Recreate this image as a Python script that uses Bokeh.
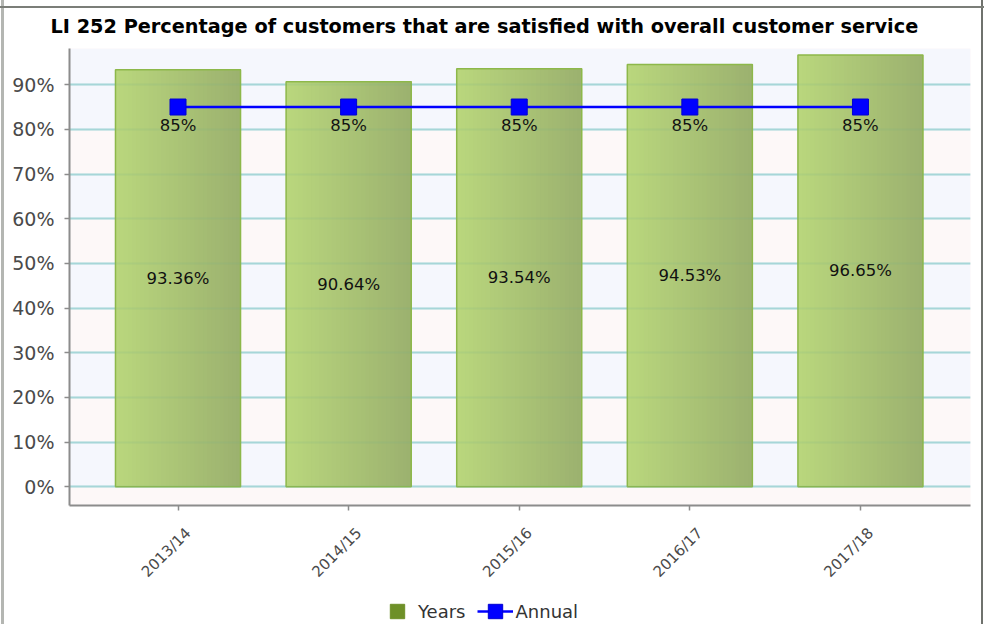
from math import pi

from bokeh.core.properties import value
from bokeh.embed import file_html
from bokeh.layouts import column
from bokeh.models import (BoxAnnotation, ColumnDataSource, FixedTicker, Grid,
                          Legend, LegendItem, LinearAxis, Range1d)
from bokeh.plotting import figure
from bokeh.resources import INLINE

# ---------------- data ----------------
title_text = "LI 252 Percentage of customers that are satisfied with overall customer service"
years = ["2013/14", "2014/15", "2015/16", "2016/17", "2017/18"]
satisfied_pct = [93.36, 90.64, 93.54, 94.53, 96.65]
annual_target = [85, 85, 85, 85, 85]
y_ticks = [0, 10, 20, 30, 40, 50, 60, 70, 80, 90]
y_tick_labels = ["0%", "10%", "20%", "30%", "40%", "50%", "60%", "70%", "80%", "90%"]
legend_labels = ["Years", "Annual"]

# ---------------- styling ----------------
FONT = "DejaVu Sans"
BAR_W = 0.733
LABEL_SHIFT = 0.06          # x-labels sit slightly right of their tick marks
N_STRIPS = 30
LEFT_RGB = (185, 215, 125)
RIGHT_RGB = (156, 177, 111)
BAR_LEGEND = "#6e9028"
LINE_COLOR = "#0000ff"
AXIS_GREY = "#8c8c8c"
LABEL_GREY = "#4a4a4a"
SIDE_LINES = ("linear-gradient(#b4b6b2,#b4b6b2) 1px 0 / 3px 100% no-repeat, "
              "linear-gradient(#6f726d,#6f726d) 981px 0 / 2px 100% no-repeat")

xs = list(range(len(years)))

# gradient strips (each strip runs to the bar's right edge; drawn left to right)
s_left, s_right, s_top, s_color = [], [], [], []
for i, v in enumerate(satisfied_pct):
    for k in range(N_STRIPS):
        t = (k + 0.5) / N_STRIPS
        rgb = tuple(int(round(a + (b - a) * t)) for a, b in zip(LEFT_RGB, RIGHT_RGB))
        s_left.append(i - BAR_W / 2 + k * BAR_W / N_STRIPS)
        s_right.append(i + BAR_W / 2)
        s_top.append(v)
        s_color.append("#%02x%02x%02x" % rgb)
strip_src = ColumnDataSource(dict(left=s_left, right=s_right, top=s_top,
                                  bottom=[0] * len(s_top), color=s_color))

bar_src = ColumnDataSource(dict(
    x=xs, top=satisfied_pct, mid=[v / 2 for v in satisfied_pct],
    label=["%.2f%%" % v for v in satisfied_pct]))
line_src = ColumnDataSource(dict(
    x=xs, y=annual_target, label=["%d%%" % v for v in annual_target]))

p = figure(width=984, height=592,
           x_range=Range1d(-0.636, 4.645), y_range=Range1d(-4.2, 98.1),
           output_backend="svg", toolbar_location=None,
           min_border_left=69, min_border_right=14,
           min_border_top=48, min_border_bottom=87)
# window frame lines drawn as CSS backgrounds behind a transparent border area
p.styles = {"background": (
    "linear-gradient(#7b7e78,#7b7e78) 0 6px / 100% 2px no-repeat, "
    + SIDE_LINES + ", white")}
p.border_fill_alpha = 0

p.background_fill_color = "#fdf8f8"
p.outline_line_color = None

# title
p.title.text = title_text
p.title.text_font = FONT
p.title.text_font_size = "19.3px"
p.title.text_font_style = "bold"
p.title.text_color = "#000000"
p.title.align = "left"
p.title.offset = -19
p.title.standoff = 22

# grid + bands
p.xgrid.visible = False
p.ygrid.ticker = FixedTicker(ticks=y_ticks)
p.ygrid.grid_line_color = "#b0dde6"
p.ygrid.grid_line_width = 2
p.ygrid.band_fill_color = "#f5f7fd"
p.ygrid.band_fill_alpha = 1
p.add_layout(BoxAnnotation(bottom=y_ticks[-1], fill_color="#f5f7fd", fill_alpha=1,
                           line_color=None, level="image"))

# bars
p.quad(left="left", right="right", top="top", bottom="bottom", source=strip_src,
       fill_color="color", line_color=None)
p.vbar(x="x", top="top", bottom=0, width=BAR_W, source=bar_src,
       fill_alpha=0, line_color="#8db84a", line_width=1.5)

# grid seen through the bars
p.add_layout(Grid(dimension=1, ticker=FixedTicker(ticks=y_ticks),
                  grid_line_color="#6fae8a", grid_line_alpha=0.15,
                  grid_line_width=2, level="guide"))

# annual target line
p.line("x", "y", source=line_src, line_color=LINE_COLOR, line_width=2.5)
p.scatter("x", "y", source=line_src, marker="square", size=16,
          fill_color=LINE_COLOR, line_color="#0000d0", line_width=1)

# value labels
p.text(x="x", y="mid", text="label", source=bar_src, text_align="center",
       text_baseline="middle", text_font=value(FONT), text_font_size="16.5px",
       text_color="#111111")
p.text(x="x", y="y", text="label", source=line_src, text_align="center",
       text_baseline="middle", y_offset=18, text_font=value(FONT),
       text_font_size="16.5px", text_color="#111111")

# axes
p.yaxis.ticker = FixedTicker(ticks=y_ticks)
p.yaxis.major_label_overrides = {t: l for t, l in zip(y_ticks, y_tick_labels)}
p.yaxis.major_label_text_font_size = "19px"
p.yaxis.major_label_standoff = 10

# bottom axis: tick marks only
p.xaxis.ticker = FixedTicker(ticks=xs)
p.xaxis.major_label_overrides = {i: "" for i in xs}
p.xaxis.major_label_standoff = 0
for ax in (p.xaxis[0], p.yaxis[0]):
    ax.axis_line_color = AXIS_GREY
    ax.axis_line_width = 2
    ax.major_tick_line_color = AXIS_GREY
    ax.major_tick_line_width = 1.5
    ax.major_tick_in = 0
    ax.major_tick_out = 5
    ax.minor_tick_line_color = None
    ax.major_label_text_font = FONT
    ax.major_label_text_color = LABEL_GREY

# second bottom axis carrying the rotated category labels
label_ticks = [x + LABEL_SHIFT for x in xs]
label_axis = LinearAxis(ticker=FixedTicker(ticks=label_ticks),
                        major_label_overrides={t: y for t, y in zip(label_ticks, years)},
                        major_label_orientation=pi / 4,
                        major_label_standoff=20,
                        major_label_text_font=FONT,
                        major_label_text_font_size="15px",
                        major_label_text_color=LABEL_GREY,
                        axis_line_color=None, major_tick_line_color=None,
                        minor_tick_line_color=None, major_tick_in=0,
                        major_tick_out=0)
p.add_layout(label_axis, "below")

# ---------------- legend strip below the chart ----------------
q = figure(width=984, height=32, x_range=Range1d(-0.636, 4.645),
           y_range=Range1d(-4.2, 98.1),
           output_backend="svg", toolbar_location=None,
           x_axis_location=None, y_axis_location=None,
           min_border=0, min_border_left=0, min_border_right=0,
           min_border_top=0, min_border_bottom=0)
q.styles = {"background": SIDE_LINES + ", white"}
q.border_fill_alpha = 0
q.background_fill_alpha = 0
q.outline_line_color = None
q.xgrid.visible = False
q.ygrid.visible = False
# hidden copies of the series: they only supply the legend swatches
lg_years = q.scatter(x=xs, y=satisfied_pct, marker="square",
                     fill_color=BAR_LEGEND, line_color=BAR_LEGEND, visible=False)
lg_line = q.line(x=xs, y=annual_target, line_color=LINE_COLOR, line_width=2.5,
                 visible=False)
lg_sq = q.scatter(x=xs, y=annual_target, marker="square", fill_color=LINE_COLOR,
                  line_color="#0000d0", line_width=1, visible=False)
legend = Legend(items=[LegendItem(label=legend_labels[0], renderers=[lg_years]),
                       LegendItem(label=legend_labels[1], renderers=[lg_line, lg_sq])],
                orientation="horizontal", location=(310, -5),
                glyph_width=36, glyph_height=36, label_standoff=3, spacing=11,
                padding=0, margin=0, border_line_color=None,
                background_fill_alpha=0, inactive_fill_alpha=0,
                label_text_font=FONT,
                label_text_font_size="18px", label_text_color="#333333")
q.add_layout(legend)

layout = column(p, q, spacing=0)
open("out.html", "w").write(file_html(layout, INLINE))
